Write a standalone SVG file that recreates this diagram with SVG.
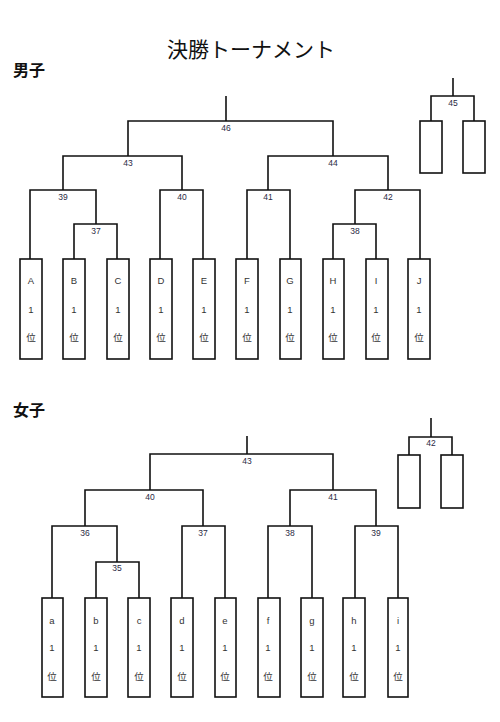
<svg xmlns="http://www.w3.org/2000/svg" width="500" height="722" viewBox="0 0 500 722">
<style>
.ln{stroke:#111;stroke-width:1.6;fill:none}
.bx{stroke:#111;stroke-width:1.6;fill:#fff}
.lb{font-family:"Liberation Sans","Noto Sans CJK JP",sans-serif;font-size:8.5px;fill:#2a2a44;text-anchor:middle}
.nt{font-family:"Liberation Sans","Noto Sans CJK JP",sans-serif;font-size:9.5px;fill:#333;text-anchor:middle}
.hd{font-family:"Noto Sans CJK JP",sans-serif;font-size:16px;font-weight:bold;fill:#111}
.tt{font-family:"Noto Sans CJK JP",sans-serif;font-size:21px;fill:#111;text-anchor:middle}
</style>
<rect width="500" height="722" fill="#fff"/>
<text class="tt" x="251" y="57">決勝トーナメント</text>
<text class="hd" x="13" y="76">男子</text>
<text class="hd" x="13" y="416">女子</text>

<g id="connectors">
<!-- men -->
<path class="ln" d="M226 96V121M128 156V121H333V156"/>
<path class="ln" d="M63 190V156H182V190"/>
<path class="ln" d="M268 190V156H388V190"/>
<path class="ln" d="M30 259V190H96V224M160 259V190H203V259"/>
<path class="ln" d="M74 259V224H117V259"/>
<path class="ln" d="M247 259V190H290V259"/>
<path class="ln" d="M355 224V190H420V259"/>
<path class="ln" d="M333 259V224H376V259"/>
<path class="ln" d="M453 78V96M431 121V96H474V121"/>
<!-- women -->
<path class="ln" d="M247 436V454M150 490V454H333V490"/>
<path class="ln" d="M85 526V490H203V526"/>
<path class="ln" d="M290 526V490H376V526"/>
<path class="ln" d="M52 598V526H117V562"/>
<path class="ln" d="M96 598V562H139V598"/>
<path class="ln" d="M182 598V526H225V598"/>
<path class="ln" d="M268 598V526H312V598"/>
<path class="ln" d="M355 598V526H398V598"/>
<path class="ln" d="M431 418V437M409 455V437H452V455"/>
</g>

<g id="match-labels">
<text class="lb" x="226" y="131">46</text>
<text class="lb" x="128" y="166">43</text>
<text class="lb" x="333" y="166">44</text>
<text class="lb" x="63" y="200">39</text>
<text class="lb" x="182" y="200">40</text>
<text class="lb" x="268" y="200">41</text>
<text class="lb" x="388" y="200">42</text>
<text class="lb" x="96" y="234">37</text>
<text class="lb" x="355" y="234">38</text>
<text class="lb" x="453" y="106">45</text>
<text class="lb" x="247" y="464">43</text>
<text class="lb" x="150" y="500">40</text>
<text class="lb" x="333" y="500">41</text>
<text class="lb" x="85" y="536">36</text>
<text class="lb" x="203" y="536">37</text>
<text class="lb" x="290" y="536">38</text>
<text class="lb" x="376" y="536">39</text>
<text class="lb" x="117" y="571">35</text>
<text class="lb" x="431" y="446">42</text>
</g>

<g id="men-A"><rect class="bx" x="20" y="259" width="22" height="100"/><text class="nt" x="31" y="284">A</text><text class="nt" x="31" y="313">1</text><text class="nt" x="31" y="341">位</text></g>
<g id="men-B"><rect class="bx" x="63" y="259" width="22" height="100"/><text class="nt" x="74" y="284">B</text><text class="nt" x="74" y="313">1</text><text class="nt" x="74" y="341">位</text></g>
<g id="men-C"><rect class="bx" x="107" y="259" width="22" height="100"/><text class="nt" x="118" y="284">C</text><text class="nt" x="118" y="313">1</text><text class="nt" x="118" y="341">位</text></g>
<g id="men-D"><rect class="bx" x="150" y="259" width="22" height="100"/><text class="nt" x="161" y="284">D</text><text class="nt" x="161" y="313">1</text><text class="nt" x="161" y="341">位</text></g>
<g id="men-E"><rect class="bx" x="193" y="259" width="22" height="100"/><text class="nt" x="204" y="284">E</text><text class="nt" x="204" y="313">1</text><text class="nt" x="204" y="341">位</text></g>
<g id="men-F"><rect class="bx" x="236" y="259" width="22" height="100"/><text class="nt" x="247" y="284">F</text><text class="nt" x="247" y="313">1</text><text class="nt" x="247" y="341">位</text></g>
<g id="men-G"><rect class="bx" x="280" y="259" width="21" height="100"/><text class="nt" x="290" y="284">G</text><text class="nt" x="290" y="313">1</text><text class="nt" x="290" y="341">位</text></g>
<g id="men-H"><rect class="bx" x="323" y="259" width="21" height="100"/><text class="nt" x="333" y="284">H</text><text class="nt" x="333" y="313">1</text><text class="nt" x="333" y="341">位</text></g>
<g id="men-I"><rect class="bx" x="366" y="259" width="22" height="100"/><text class="nt" x="376" y="284">I</text><text class="nt" x="376" y="313">1</text><text class="nt" x="376" y="341">位</text></g>
<g id="men-J"><rect class="bx" x="408" y="259" width="22" height="100"/><text class="nt" x="419" y="284">J</text><text class="nt" x="419" y="313">1</text><text class="nt" x="419" y="341">位</text></g>
<g id="men-45-left"><rect class="bx" x="420" y="121" width="22" height="52"/></g>
<g id="men-45-right"><rect class="bx" x="463" y="121" width="22" height="52"/></g>

<g id="women-a"><rect class="bx" x="42" y="598" width="21" height="99"/><text class="nt" x="52" y="624">a</text><text class="nt" x="52" y="651">1</text><text class="nt" x="52" y="680">位</text></g>
<g id="women-b"><rect class="bx" x="85" y="598" width="22" height="99"/><text class="nt" x="96" y="624">b</text><text class="nt" x="96" y="651">1</text><text class="nt" x="96" y="680">位</text></g>
<g id="women-c"><rect class="bx" x="128" y="598" width="22" height="99"/><text class="nt" x="139" y="624">c</text><text class="nt" x="139" y="651">1</text><text class="nt" x="139" y="680">位</text></g>
<g id="women-d"><rect class="bx" x="171" y="598" width="22" height="99"/><text class="nt" x="182" y="624">d</text><text class="nt" x="182" y="651">1</text><text class="nt" x="182" y="680">位</text></g>
<g id="women-e"><rect class="bx" x="215" y="598" width="21" height="99"/><text class="nt" x="225" y="624">e</text><text class="nt" x="225" y="651">1</text><text class="nt" x="225" y="680">位</text></g>
<g id="women-f"><rect class="bx" x="258" y="598" width="22" height="99"/><text class="nt" x="268" y="624">f</text><text class="nt" x="268" y="651">1</text><text class="nt" x="268" y="680">位</text></g>
<g id="women-g"><rect class="bx" x="301" y="598" width="22" height="99"/><text class="nt" x="312" y="624">g</text><text class="nt" x="312" y="651">1</text><text class="nt" x="312" y="680">位</text></g>
<g id="women-h"><rect class="bx" x="343" y="598" width="22" height="99"/><text class="nt" x="354" y="624">h</text><text class="nt" x="354" y="651">1</text><text class="nt" x="354" y="680">位</text></g>
<g id="women-i"><rect class="bx" x="388" y="598" width="20" height="99"/><text class="nt" x="398" y="624">i</text><text class="nt" x="398" y="651">1</text><text class="nt" x="398" y="680">位</text></g>
<g id="women-42-left"><rect class="bx" x="398" y="455" width="22" height="53"/></g>
<g id="women-42-right"><rect class="bx" x="441" y="455" width="22" height="53"/></g>
</svg>
